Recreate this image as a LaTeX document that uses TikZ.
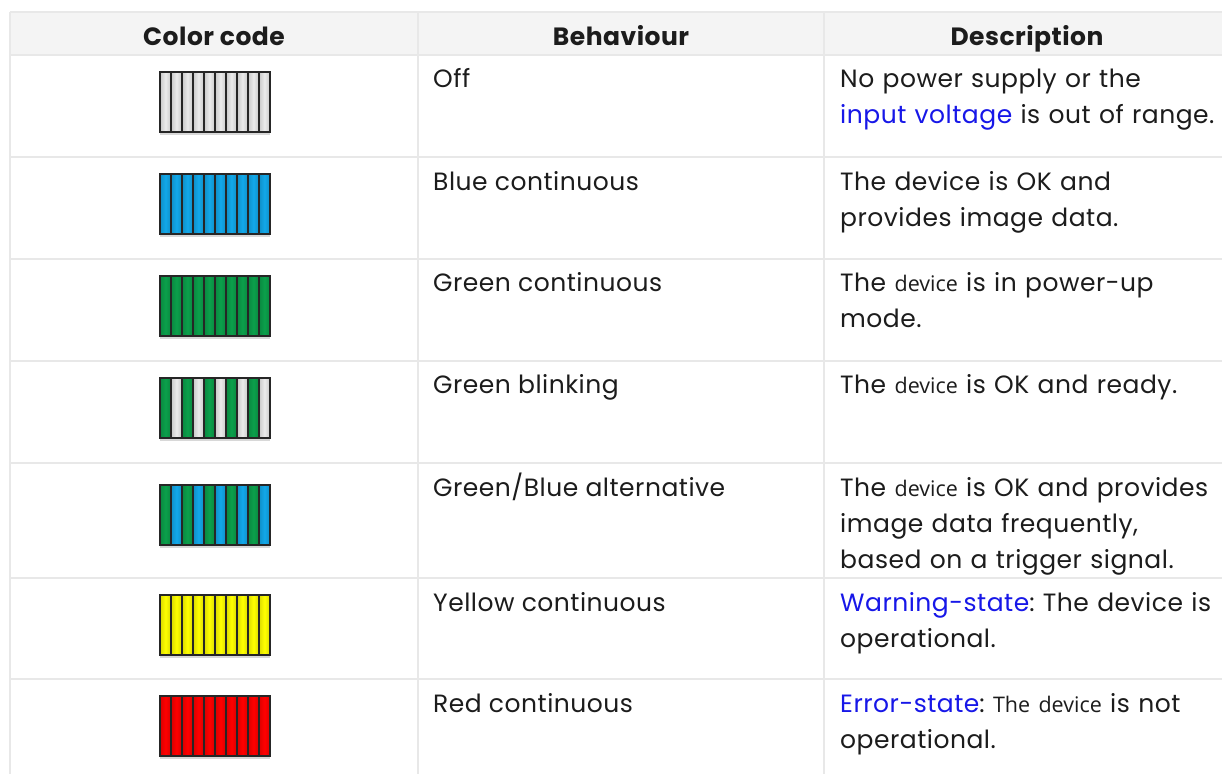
\documentclass[tikz,border=0pt]{standalone}
\usepackage{fontspec}
\setmainfont{Poppins}[LetterSpace=2]
\newfontfamily\devfont{Open Sans}
\usetikzlibrary{positioning, shadows}
\frenchspacing

\definecolor{gridline}{HTML}{E8E8E8}
\definecolor{headfill}{HTML}{F4F4F4}
\definecolor{linkblue}{HTML}{1717E8}
\definecolor{txt}{HTML}{1C1C1C}
\definecolor{ledgray}{HTML}{EBEBEB}
\definecolor{ledblue}{HTML}{12A8EA}
\definecolor{ledgreen}{HTML}{0BA04B}
\definecolor{ledyellow}{HTML}{FFFF00}
\definecolor{ledred}{HTML}{FF0000}

\newcommand{\lnk}[1]{\textcolor{linkblue}{#1}}
\newcommand{\dev}[1]{{\devfont\fontsize{21.5}{36}\selectfont #1}}
% one LED bar: top edge, ten stripe colours
\newcommand{\ledbar}[2]{%
  \path[drop shadow={shadow xshift=0pt, shadow yshift=-3pt, opacity=0.3}]
    (160,#1) rectangle ++(110,60);
  \foreach \c [count=\i from 0] in {#2}
    \draw[stripe, left color=\c!85!black, right color=\c!85!black, middle color=\c]
      (160+11*\i,#1) rectangle ++(11,60);
}

\begin{document}
\begin{tikzpicture}[x=1pt, y=-1pt,
    txtnode/.style={inner sep=0pt, text=txt, font=\fontsize{25}{36}\selectfont},
    headnode/.style={txtnode, anchor=base, font=\fontsize{25}{36}\selectfont\bfseries},
    behnode/.style={txtnode, anchor=base west},
    descnode/.style={txtnode, anchor=base west, text width=385pt, align=left},
    stripe/.style={draw=black!85, line width=1.2pt}]
  \useasboundingbox (0,0) rectangle (1222,774);
  \fill[white] (0,0) rectangle (1222,774);

  % header and grid
  \fill[headfill] (10,12) rectangle (1222,54.5);
  \foreach \y in {12, 54.5, 157, 258.5, 360.5, 463, 578, 679}
    \draw[gridline, line width=2pt] (10,\y) -- (1222,\y);
  \foreach \x in {10, 418, 824}
    \draw[gridline, line width=2pt] (\x,12) -- (\x,774);

  \node[headnode] (hdcode) at (214,45) {Color code};
  \node[headnode] (hdbeh) at (621,45) {Behaviour};
  \node[headnode] (hddesc) at (1027,45) {Description};

  % LED bars
  \ledbar{72}{ledgray,ledgray,ledgray,ledgray,ledgray,ledgray,ledgray,ledgray,ledgray,ledgray}
  \ledbar{174}{ledblue,ledblue,ledblue,ledblue,ledblue,ledblue,ledblue,ledblue,ledblue,ledblue}
  \ledbar{276}{ledgreen,ledgreen,ledgreen,ledgreen,ledgreen,ledgreen,ledgreen,ledgreen,ledgreen,ledgreen}
  \ledbar{378}{ledgreen,ledgray,ledgreen,ledgray,ledgreen,ledgray,ledgreen,ledgray,ledgreen,ledgray}
  \ledbar{485}{ledgreen,ledblue,ledgreen,ledblue,ledgreen,ledblue,ledgreen,ledblue,ledgreen,ledblue}
  \ledbar{595}{ledyellow,ledyellow,ledyellow,ledyellow,ledyellow,ledyellow,ledyellow,ledyellow,ledyellow,ledyellow}
  \ledbar{696}{ledred,ledred,ledred,ledred,ledred,ledred,ledred,ledred,ledred,ledred}

  % behaviour column
  \node[behnode] (beh1) at (433,87.5) {Off};
  \node[behnode] (beh2) at (433,190) {Blue continuous};
  \node[behnode] (beh3) at (433,291.5) {Green continuous};
  \node[behnode] (beh4) at (433,393.5) {Green blinking};
  \node[behnode] (beh5) at (433,496) {Green/Blue alternative};
  \node[behnode] (beh6) at (433,611) {Yellow continuous};
  \node[behnode] (beh7) at (433,712) {Red continuous};

  % description column
  \node[descnode] (desc1) at (840,87.5) {No power supply or the\\\lnk{input voltage} is out of range.};
  \node[descnode] (desc2) at (840,190) {The device is OK and\\provides image data.};
  \node[descnode] (desc3) at (840,291.5) {The \dev{device} is in power-up\\mode.};
  \node[descnode] (desc4) at (840,393.5) {The \dev{device} is OK and ready.};
  \node[descnode] (desc5) at (840,496) {The \dev{device} is OK and provides\\image data frequently,\\based on a trigger signal.};
  \node[descnode] (desc6) at (840,611) {\lnk{Warning-state}: The device is\\operational.};
  \node[descnode] (desc7) at (840,712) {\lnk{Error-state}: \dev{The device} is not\\operational.};
\end{tikzpicture}
\end{document}
